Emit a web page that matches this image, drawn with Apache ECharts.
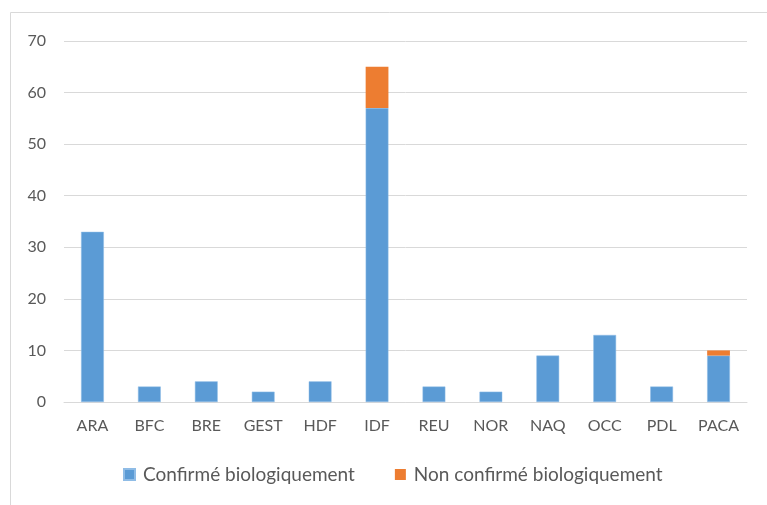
<!DOCTYPE html>
<html><head><meta charset="utf-8">
<script src="https://cdn.jsdelivr.net/npm/echarts@6/dist/echarts.min.js"></script>
<style>html,body{margin:0;padding:0;background:#fff}#c{width:767px;height:505px}</style>
</head><body><div id="c"></div>
<script>
const categories = ['ARA','BFC','BRE','GEST','HDF','IDF','REU','NOR','NAQ','OCC','PDL','PACA'];
const confirmed = [33,3,4,2,4,57,3,2,9,13,3,9];
const nonConfirmed = [0,0,0,0,0,8,0,0,0,0,0,1];
const yTicks = {min:0, max:70, interval:10};
const chart = echarts.init(document.getElementById('c'));
const font = 'Lato, "Open Sans", sans-serif';
chart.setOption({
  animation:false,
  graphic:[{type:'rect',shape:{x:10.5,y:12.5,width:800,height:600},style:{fill:'none',stroke:'#d9d9d9',lineWidth:1}}],
  grid:{left:64,right:20,top:41,bottom:103,containLabel:false},
  legend:{left:118,top:460,itemWidth:11,itemHeight:11,itemGap:40,icon:'rect',
    textStyle:{color:'#595959',fontSize:19,fontFamily:font,padding:[0,0,0,3]},
    data:['Confirmé biologiquement','Non confirmé biologiquement']},
  xAxis:{type:'category',data:categories,
    axisLine:{lineStyle:{color:'#d9d9d9',width:1}},axisTick:{show:false},
    axisLabel:{color:'#595959',fontSize:16,fontFamily:font,margin:16}},
  yAxis:{type:'value',min:yTicks.min,max:yTicks.max,interval:yTicks.interval,
    axisLine:{show:false},axisTick:{show:false},
    splitLine:{lineStyle:{color:'#d9d9d9',width:1}},
    axisLabel:{color:'#595959',fontSize:16,fontFamily:font,margin:18}},
  series:[
    {name:'Confirmé biologiquement',type:'bar',stack:'s',data:confirmed,barWidth:'40%',
      itemStyle:{color:'#5B9BD5',borderColor:'#8fbce6',borderWidth:0.5}},
    {name:'Non confirmé biologiquement',type:'bar',stack:'s',data:nonConfirmed,barWidth:'40%',
      itemStyle:{color:'#ED7D31'}}
  ]
});
</script></body></html>
